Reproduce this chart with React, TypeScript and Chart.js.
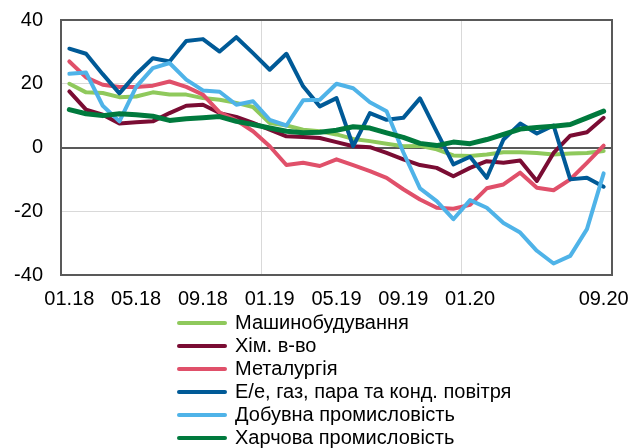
import React, { useEffect, useRef } from 'react';
import { Chart, registerables } from 'chart.js';

Chart.register(...registerables);

const CATEGORIES = [
  '01.18', '02.18', '03.18', '04.18', '05.18', '06.18', '07.18', '08.18', '09.18', '10.18', '11.18', '12.18',
  '01.19', '02.19', '03.19', '04.19', '05.19', '06.19', '07.19', '08.19', '09.19', '10.19', '11.19', '12.19',
  '01.20', '02.20', '03.20', '04.20', '05.20', '06.20', '07.20', '08.20', '09.20',
];
const X_TICK_LABELS = ['01.18', '05.18', '09.18', '01.19', '05.19', '09.19', '01.20', '09.20'];
const X_GRID_BOUNDARIES = ['01.19', '01.20'];
const Y_MIN = -40;
const Y_MAX = 40;
const Y_STEP = 20;

const SERIES_NAMES = [
  'Машинобудування',
  'Хім. в-во',
  'Металургія',
  'Е/е, газ, пара та конд. повітря',
  'Добувна промисловість',
  'Харчова промисловість',
];
const SERIES_COLORS = ['#8FC95C', '#7A0C33', '#E0506A', '#005A97', '#4FB3E8', '#007A3D'];
const SERIES_WIDTHS = [4, 4, 4, 4, 4, 5];

const MASHYNOBUDUVANNIA = [
  20, 17.3, 17.1, 15.8, 16, 17.3, 16.6, 16.6, 15.5, 15, 14, 12.7,
  7.7, 6.9, 5.6, 5.1, 4.1, 2.7, 2, 1.2, 0.4, 0.5, -0.6, -2.5,
  -2.7, -2.2, -1.5, -1.5, -1.7, -2.2, -1.9, -1.7, -1.1,
];
const KHIM = [
  17.6, 11.9, 10.3, 7.5, 7.9, 8.2, 10.8, 13.1, 13.4, 10.8, 9.6, 7.7,
  5.6, 3.5, 3.3, 3, 1.7, 0.4, 0.1, -1.7, -3.7, -5.5, -6.4, -9,
  -6.4, -4.3, -4.8, -4.1, -10.5, -1.7, 3.7, 4.8, 9.3,
];
const METALURHIIA = [
  27, 22, 19.7, 19, 19, 19.4, 20.7, 19, 16.6, 11, 8.5, 5.1,
  0.4, -5.5, -4.8, -5.8, -3.7, -5.5, -7.4, -9.5, -13.1, -16.3, -18.9, -19.2,
  -18, -12.8, -11.6, -7.9, -12.6, -13.4, -10, -4.8, 0.6,
];
const ENERGY = [
  31, 29.4, 23, 17, 23, 28, 27, 33.4, 34, 30.1, 34.6, 29.6,
  24.4, 29.4, 19.2, 12.9, 15.5, 0.4, 10.8, 8.7, 9.3, 15.4, 5, -5.3,
  -2.9, -9.5, 2.5, 7.5, 4.4, 6.9, -10, -9.5, -12.3,
];
const DOBUVNA = [
  23.1, 23.5, 13.1, 8.2, 19, 24.9, 26.5, 21.3, 17.9, 17.5, 13.4, 14.5,
  8.7, 6.9, 14.8, 15, 20, 18.6, 14.2, 11.4, -1.5, -12.8, -16.8, -22.5,
  -16.5, -18.9, -23.7, -26.7, -32.4, -36.4, -34, -25.6, -8.1,
];
const KHARCHOVA = [
  11.9, 10.6, 10, 10.6, 10.3, 9.8, 8.5, 9, 9.3, 9.7, 8.2, 7.2,
  6.1, 5.1, 4.6, 4.8, 5.4, 6.5, 6.1, 4.6, 3.2, 1.3, 0.6, 1.7,
  1.2, 2.5, 4.1, 5.8, 6.3, 6.7, 7.2, 9.3, 11.4,
];
const SERIES_VALUES = [MASHYNOBUDUVANNIA, KHIM, METALURHIIA, ENERGY, DOBUVNA, KHARCHOVA];

const FONT_FAMILY = '"Liberation Sans", Arial, Helvetica, sans-serif';
const DARK = '#595959';
const LIGHT = '#D9D9D9';

const legendPlacer = {
  id: 'legendPlacer',
  afterLayout(chart: any) {
    const lg = chart.legend;
    if (!lg) return;
    lg.left = 176;
    lg.right = 630;
    lg.top = 310;
    lg.bottom = 480;
    lg.width = lg.right - lg.left;
    lg.height = lg.bottom - lg.top;
  },
};

const frame = {
  id: 'frame',
  beforeDatasetsDraw(chart: any) {
    const { ctx, chartArea } = chart;
    ctx.save();
    ctx.strokeStyle = DARK;
    ctx.lineWidth = 2;
    ctx.strokeRect(chartArea.left, chartArea.top, chartArea.right - chartArea.left, chartArea.bottom - chartArea.top);
    ctx.restore();
  },
};

const noAutoPadding = (s: any) => {
  s.paddingTop = 0;
  s.paddingBottom = 0;
  s.paddingLeft = 0;
  s.paddingRight = 0;
};

export default function App() {
  const canvasRef = useRef<HTMLCanvasElement | null>(null);

  useEffect(() => {
    if (!canvasRef.current) return;
    const n = CATEGORIES.length;
    const boundaryIdx = X_GRID_BOUNDARIES.map((c) => CATEGORIES.indexOf(c));
    const chart = new Chart(canvasRef.current, {
      type: 'line',
      data: {
        labels: CATEGORIES,
        datasets: SERIES_NAMES.map((name, i) => ({
          label: name,
          data: SERIES_VALUES[i],
          borderColor: SERIES_COLORS[i],
          backgroundColor: SERIES_COLORS[i],
          borderWidth: SERIES_WIDTHS[i],
          pointRadius: 0,
          tension: 0,
          fill: false,
          borderJoinStyle: 'round',
          borderCapStyle: 'round',
          order: SERIES_NAMES.length - i,
        })),
      },
      options: {
        animation: false,
        responsive: true,
        maintainAspectRatio: false,
        layout: { padding: { top: 20, left: 0, right: 18, bottom: 139 } },
        font: { family: FONT_FAMILY },
        plugins: {
          tooltip: { enabled: false },
          legend: {
            display: true,
            position: 'chartArea',
            align: 'start',
            labels: {
              font: { family: FONT_FAMILY, size: 20 },
              color: '#000',
              padding: 3,
              usePointStyle: true,
              pointStyleWidth: 46,
              generateLabels: (c: any) =>
                c.data.datasets.map((ds: any, i: number) => ({
                  text: ds.label,
                  fillStyle: ds.borderColor,
                  strokeStyle: ds.borderColor,
                  lineWidth: 4,
                  lineCap: 'round',
                  pointStyle: 'line',
                  hidden: false,
                  datasetIndex: i,
                  fontColor: '#000',
                })),
            },
          },
        },
        scales: {
          x: {
            type: 'category',
            offset: true,
            afterFit: (s: any) => {
              s.height = 34;
              noAutoPadding(s);
            },
            grid: {
              offset: true,
              drawTicks: false,
              color: (ctx: any) => {
                const i = ctx.index;
                if (i === 0 || i === n) return DARK;
                if (boundaryIdx.includes(i)) return LIGHT;
                return 'rgba(0,0,0,0)';
              },
              lineWidth: (ctx: any) => (ctx.index === 0 || ctx.index === n ? 2 : 1),
            },
            border: { display: true, color: DARK, width: 2 },
            ticks: {
              autoSkip: false,
              maxRotation: 0,
              minRotation: 0,
              padding: 12,
              color: '#000',
              font: { family: FONT_FAMILY, size: 20 },
              callback: (_v: any, idx: number) =>
                X_TICK_LABELS.includes(CATEGORIES[idx]) ? CATEGORIES[idx] : '',
            },
          },
          y: {
            min: Y_MIN,
            max: Y_MAX,
            afterFit: (s: any) => {
              s.width = 61;
              noAutoPadding(s);
            },
            grid: {
              drawTicks: false,
              color: (ctx: any) => {
                const v = ctx.tick ? ctx.tick.value : null;
                if (v === 0 || v === Y_MAX || v === Y_MIN) return DARK;
                return LIGHT;
              },
              lineWidth: (ctx: any) => {
                const v = ctx.tick ? ctx.tick.value : null;
                return v === 0 || v === Y_MAX || v === Y_MIN ? 2 : 1;
              },
            },
            border: { display: true, color: DARK, width: 2 },
            ticks: {
              stepSize: Y_STEP,
              padding: 18,
              color: '#000',
              font: { family: FONT_FAMILY, size: 20 },
            },
          },
        },
      } as any,
      plugins: [legendPlacer, frame],
    });
    return () => chart.destroy();
  }, []);

  return (
    <div style={{ position: 'absolute', left: 0, top: 0, width: 630, height: 448, background: '#fff' }}>
      <canvas ref={canvasRef} />
    </div>
  );
}
